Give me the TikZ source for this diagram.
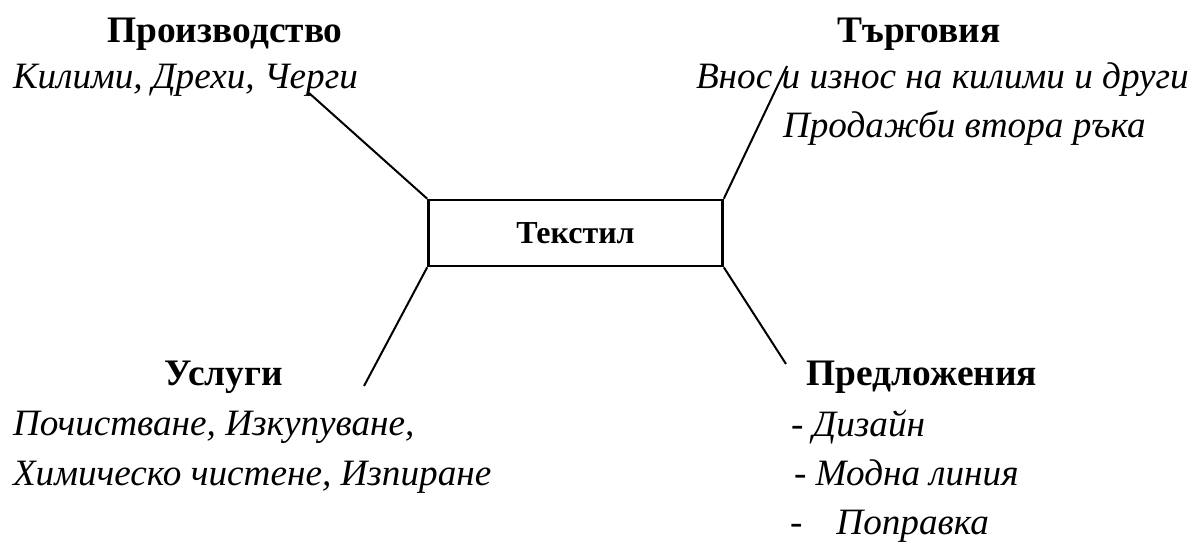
\documentclass[tikz,border=0pt]{standalone}
\usepackage{fontspec}
\setmainfont{Liberation Serif}

\begin{document}
\begin{tikzpicture}[x = 0.5pt, y = -0.5pt, line width = 1pt,
    head/.style = {font = \bfseries\fontsize{18.7}{22}\selectfont, anchor = base, inner sep = 0pt},
    item/.style = {font = \itshape\fontsize{18.6}{22}\selectfont, anchor = base west, inner sep = 0pt},
    point/.style = {font = \fontsize{18.6}{22}\selectfont, anchor = base west, inner sep = 0pt},
    hub/.style = {draw, line width = 1.3pt, minimum width = 147pt, minimum height = 33pt,
        font = \bfseries\fontsize{16}{20}\selectfont}]
    \useasboundingbox (0, 0) rectangle (1194, 541);
    \node[hub] (textile) at (575.5, 233) {Текстил};
    % top left
    \node[head] (prodHead) at (225, 42) {Производство};
    \node[item] (prodItems) at (12, 88) {Килими, Дрехи, Черги};
    % top right
    \node[head] (tradeHead) at (919, 42) {Търговия};
    \node[item] (tradeImport) at (695, 88) {Внос и износ на килими и други};
    \node[item] (tradeResale) at (782, 137) {Продажби втора ръка};
    % bottom left
    \node[head] (servHead) at (224, 385) {Услуги};
    \node[item] (servItemsA) at (12, 435) {Почистване, Изкупуване,};
    \node[item] (servItemsB) at (12, 485) {Химическо чистене, Изпиране};
    % bottom right
    \node[head] (offerHead) at (922, 385) {Предложения};
    \node[point] (offerDesign) at (790, 436) {- \textit{Дизайн}};
    \node[point] (offerFashion) at (793, 485) {- \textit{Модна линия}};
    \node[point] (offerRepair) at (789, 534) {-\hspace{17pt}\textit{Поправка}};
    % connectors
    \coordinate (prodEnd) at (309, 93);
    \coordinate (tradeEnd) at (787, 66);
    \coordinate (servEnd) at (364, 386);
    \coordinate (offerEnd) at (786, 364);
    \draw (textile.north west) -- (prodEnd);
    \draw (textile.north east) -- (tradeEnd);
    \draw (textile.south west) -- (servEnd);
    \draw (textile.south east) -- (offerEnd);
\end{tikzpicture}
\end{document}
